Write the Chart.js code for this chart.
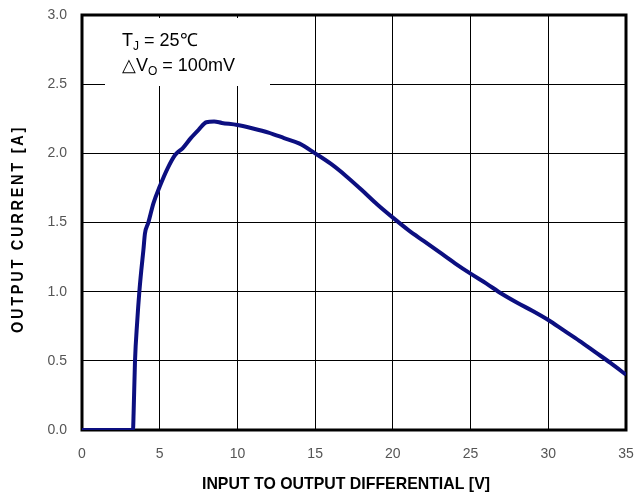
<!DOCTYPE html>
<html>
<head>
<meta charset="utf-8">
<script src="https://cdn.jsdelivr.net/npm/chart.js@4/dist/chart.umd.min.js"></script>
<style>
    html, body { margin: 0; padding: 0; background: #fff; }
    #wrap { width: 634px; height: 494px; }
</style>
</head>
<body>
<div id="wrap"><canvas id="chart"></canvas></div>
<script>
// input-output differential [V] and output current [A]
const voltage = [0, 3.28, 3.32, 3.41, 3.55, 3.69, 3.82, 3.95, 4.05, 4.27, 4.6, 5.0, 5.5, 6.0, 6.5, 7.0, 7.5, 8.0, 8.5, 9.0, 10, 11, 12, 13, 14, 15, 16, 17, 18, 19, 20, 21, 22, 23, 24, 25, 26, 27, 28, 29, 30, 31, 32, 33, 34, 35];
const current = [0, 0, 0.12, 0.5, 0.78, 1.0, 1.16, 1.3, 1.42, 1.5, 1.64, 1.76, 1.89, 1.99, 2.04, 2.11, 2.17, 2.225, 2.23, 2.22, 2.205, 2.18, 2.15, 2.11, 2.07, 2.0, 1.925, 1.835, 1.735, 1.63, 1.535, 1.445, 1.365, 1.285, 1.205, 1.13, 1.06, 0.985, 0.92, 0.86, 0.795, 0.72, 0.645, 0.565, 0.485, 0.40];

const xTicks = [0, 5, 10, 15, 20, 25, 30, 35];
const yTicks = [0, 0.5, 1.0, 1.5, 2.0, 2.5, 3.0];

const xTitle = "INPUT TO OUTPUT DIFFERENTIAL [V]";
const yTitle = "OUTPUT CURRENT [A]";
const noteLine1 = ["T", "J", " = 25℃"];
const noteLine2 = ["△V", "O", " = 100mV"];

const points = voltage.map((v, i) => ({ x: v, y: current[i] }));

// frame, note box and axis titles
const decorations = {
    id: "decorations",
    beforeDatasetsDraw(chart) {
        const ctx = chart.ctx;
        const a = chart.chartArea;
        ctx.save();

        // white box behind the note, hides the grid
        ctx.fillStyle = "#fff";
        ctx.fillRect(a.left + 23, a.top + 3, 165, 68);

        // thick frame
        ctx.strokeStyle = "#000";
        ctx.lineWidth = 3;
        ctx.strokeRect(a.left, a.top, a.right - a.left, a.bottom - a.top);

        // note text with subscripts
        ctx.fillStyle = "#000";
        ctx.textBaseline = "alphabetic";
        ctx.textAlign = "left";
        function drawNote(parts, x, y) {
            ctx.font = "18px 'Liberation Sans', Arial, sans-serif";
            ctx.fillText(parts[0], x, y);
            x += ctx.measureText(parts[0]).width;
            ctx.font = "12px 'Liberation Sans', Arial, sans-serif";
            ctx.fillText(parts[1], x, y + 4);
            x += ctx.measureText(parts[1]).width;
            ctx.font = "18px 'Liberation Sans', Arial, sans-serif";
            ctx.fillText(parts[2], x, y);
        }
        drawNote(noteLine1, 122, 46);
        drawNote(noteLine2, 122, 71);

        ctx.restore();
    },
    afterDraw(chart) {
        const ctx = chart.ctx;
        ctx.save();
        ctx.fillStyle = "#000";
        ctx.textAlign = "center";
        ctx.textBaseline = "middle";

        ctx.font = "bold 17px 'Liberation Sans', Arial, sans-serif";
        ctx.fillText(xTitle, 346, 484, 288);

        ctx.translate(19, 229);
        ctx.rotate(-Math.PI / 2);
        ctx.letterSpacing = "3px";
        ctx.font = "bold 16px 'Liberation Sans', Arial, sans-serif";
        ctx.fillText(yTitle, 0, 0, 208);
        ctx.restore();
    }
};

new Chart(document.getElementById("chart"), {
    type: "scatter",
    data: {
        datasets: [
            {
                data: points,
                showLine: true,
                borderColor: "#0c0f80",
                borderWidth: 4,
                pointRadius: 0,
                cubicInterpolationMode: "monotone",
                fill: false
            }
        ]
    },
    options: {
        responsive: true,
        maintainAspectRatio: false,
        animation: false,
        layout: { padding: { top: 15, right: 8, left: 0, bottom: 0 } },
        plugins: {
            legend: { display: false },
            tooltip: { enabled: false }
        },
        scales: {
            x: {
                type: "linear",
                min: 0,
                max: 35,
                afterBuildTicks(scale) {
                    scale.ticks = xTicks.map((v) => ({ value: v }));
                },
                afterFit(scale) {
                    scale.height = 64;
                    scale.paddingLeft = 0;
                    scale.paddingRight = 0;
                },
                grid: { color: "#000", lineWidth: 1, drawTicks: false },
                border: { display: false },
                ticks: {
                    color: "#555",
                    padding: 16,
                    maxRotation: 0,
                    font: { family: "'Liberation Sans', Arial, sans-serif", size: 14 },
                    callback: (v) => String(v)
                }
            },
            y: {
                type: "linear",
                min: 0,
                max: 3,
                afterBuildTicks(scale) {
                    scale.ticks = yTicks.map((v) => ({ value: v }));
                },
                afterFit(scale) {
                    scale.width = 82;
                    scale.paddingTop = 0;
                    scale.paddingBottom = 0;
                },
                grid: { color: "#000", lineWidth: 1, drawTicks: false },
                border: { display: false },
                ticks: {
                    color: "#555",
                    padding: 15,
                    font: { family: "'Liberation Sans', Arial, sans-serif", size: 14 },
                    callback: (v) => v.toFixed(1)
                }
            }
        }
    },
    plugins: [decorations]
});
</script>
</body>
</html>
